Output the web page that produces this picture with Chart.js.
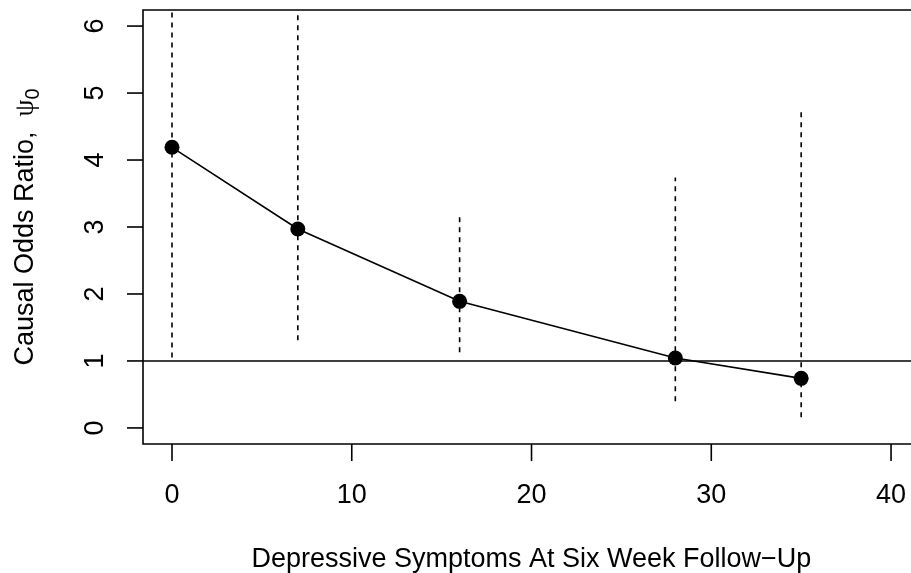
<!DOCTYPE html>
<html>
<head>
<meta charset="utf-8">
<script src="https://cdn.jsdelivr.net/npm/chart.js@4"></script>
<style>
  body { margin: 0; background: #fff; }
</style>
</head>
<body>
<canvas id="psiChart" width="911" height="573"></canvas>
<script>
// values
const symptoms = [0, 7, 16, 28, 35];
const oddsRatio = [4.19, 2.97, 1.89, 1.045, 0.74];
const ciLower = [1.05, 1.31, 1.13, 0.40, 0.16];
const ciUpper = [7.0, 6.6, 3.19, 3.74, 4.73];
const xTicks = [0, 10, 20, 30, 40];
const yTicks = [0, 1, 2, 3, 4, 5, 6];
const refLine = 1;

const xTitle = 'Depressive Symptoms At Six Week Follow\u2212Up';
const yTitle = 'Causal Odds Ratio,  ';

const xMin = -1.613, xMax = 41.11;
const yMin = -0.24, yMax = 6.24;

const FONT = '"Liberation Sans", Arial, Helvetica, sans-serif';

// CI segments, separated by gaps
const ciPoints = [];
symptoms.forEach((s, i) => {
  ciPoints.push({ x: s, y: ciLower[i] }, { x: s, y: ciUpper[i] }, { x: s, y: null });
});

// R style axes: box, outward ticks, rotated y labels
const rAxes = {
  id: 'rAxes',
  afterDraw(chart) {
    const { ctx, chartArea: a, scales: { x, y } } = chart;
    ctx.save();
    ctx.strokeStyle = '#000';
    ctx.fillStyle = '#000';
    ctx.lineWidth = 1.6;

    ctx.beginPath();
    ctx.moveTo(a.right + 5, a.top);
    ctx.lineTo(a.left, a.top);
    ctx.lineTo(a.left, a.bottom);
    ctx.lineTo(a.right + 5, a.bottom);
    ctx.stroke();

    ctx.font = '27px ' + FONT;
    ctx.textAlign = 'center';
    ctx.textBaseline = 'alphabetic';

    xTicks.forEach(v => {
      const px = x.getPixelForValue(v);
      ctx.beginPath();
      ctx.moveTo(px, a.bottom);
      ctx.lineTo(px, a.bottom + 17);
      ctx.stroke();
      ctx.fillText(String(v), px, 503);
    });

    yTicks.forEach(v => {
      const py = y.getPixelForValue(v);
      ctx.beginPath();
      ctx.moveTo(a.left, py);
      ctx.lineTo(a.left - 16, py);
      ctx.stroke();
      ctx.save();
      ctx.translate(103, py);
      ctx.rotate(-Math.PI / 2);
      ctx.fillText(String(v), 0, 0);
      ctx.restore();
    });

    // x title, centred on the full R plot region
    ctx.fillText(xTitle, (a.left + x.getPixelForValue(41.6)) / 2, 567);

    // y title with psi subscript 0
    ctx.save();
    const mid = (a.top + a.bottom) / 2;
    ctx.translate(33, mid);
    ctx.rotate(-Math.PI / 2);
    ctx.textAlign = 'left';
    ctx.font = '27px ' + FONT;
    const w1 = ctx.measureText(yTitle).width;
    ctx.font = '27px "Liberation Serif", "DejaVu Serif", serif';
    const w2 = ctx.measureText('\u03c8').width;
    ctx.font = '20px ' + FONT;
    const w3 = ctx.measureText('0').width;
    let cx = -(w1 + w2 + w3) / 2;
    ctx.font = '27px ' + FONT;
    ctx.fillText(yTitle, cx, 0);
    cx += w1;
    ctx.font = '27px "Liberation Serif", "DejaVu Serif", serif';
    ctx.fillText('\u03c8', cx, 0);
    cx += w2;
    ctx.font = '20px ' + FONT;
    ctx.fillText('0', cx, 6);
    ctx.restore();

    ctx.restore();
  }
};

const ctx = document.getElementById('psiChart').getContext('2d');

const chart = new Chart(ctx, {
  type: 'line',
  data: {
    datasets: [
      {
        label: 'Causal odds ratio',
        data: symptoms.map((s, i) => ({ x: s, y: oddsRatio[i] })),
        borderColor: '#000',
        backgroundColor: '#000',
        borderWidth: 1.6,
        pointRadius: 7.5,
        pointBorderWidth: 0,
        pointBackgroundColor: '#000',
        tension: 0,
        fill: false,
        clip: 0
      },
      {
        label: 'Interval',
        data: ciPoints,
        borderColor: '#000',
        borderWidth: 1.6,
        borderDash: [5, 5],
        pointRadius: 0,
        spanGaps: false,
        fill: false,
        clip: 0
      },
      {
        label: 'Reference',
        data: [{ x: xMin, y: refLine }, { x: xMax, y: refLine }],
        borderColor: '#000',
        borderWidth: 1.6,
        pointRadius: 0,
        fill: false,
        clip: 0
      }
    ]
  },
  options: {
    responsive: false,
    animation: false,
    devicePixelRatio: 1,
    layout: {
      autoPadding: false,
      padding: { left: 143, top: 10, right: 0, bottom: 129 }
    },
    plugins: {
      legend: { display: false },
      tooltip: { enabled: false }
    },
    scales: {
      x: { type: 'linear', min: xMin, max: xMax, display: false },
      y: { type: 'linear', min: yMin, max: yMax, display: false }
    }
  },
  plugins: [rAxes]
});
</script>
</body>
</html>
